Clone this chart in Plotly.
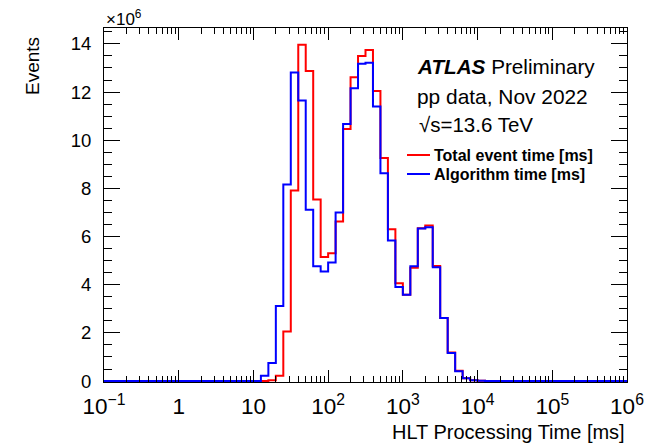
import numpy as np
import plotly.graph_objects as go

# Histogram binning: 10 log-spaced bins per decade from 10^-1 to 10^6 ms
edge_log10 = np.arange(-10, 61) / 10.0
bin_edges_ms = 10 ** edge_log10
first_filled_bin = 21  # bin starting at 10^1.1 ms

# Events per bin, in units of 10^6 (bins 10^1.1 ... 10^4.1 ms)
total_event_time_1e6 = [0.00, 0.03, 0.22, 2.06, 7.91, 13.96, 12.87, 7.54, 5.15, 5.31,
                        6.62, 10.47, 12.62, 13.50, 13.75, 12.04, 9.26, 6.30, 4.06, 3.58,
                        4.70, 6.34, 6.46, 4.78, 2.62, 1.19, 0.43, 0.12, 0.03, 0.01]
algorithm_time_1e6 = [0.22, 0.75, 3.12, 8.16, 12.81, 11.65, 7.11, 4.77, 4.55, 4.92,
                      7.00, 10.67, 12.16, 13.18, 13.22, 11.40, 8.63, 5.84, 3.91, 3.58,
                      4.77, 6.33, 6.39, 4.72, 2.62, 1.16, 0.41, 0.12, 0.03, 0.01]

series_names = ["Total event time [ms]", "Algorithm time [ms]"]
series_colors = ["#ff0000", "#0000ff"]

n_bins = len(bin_edges_ms) - 1


def full_hist(vals):
    h = np.zeros(n_bins)
    h[first_filled_bin:first_filled_bin + len(vals)] = vals
    return list(h) + [h[-1]]


FONT = "Liberation Sans, Arial, Helvetica, sans-serif"

fig = go.Figure()
for name, vals, col in zip(series_names, [total_event_time_1e6, algorithm_time_1e6], series_colors):
    fig.add_trace(go.Scatter(
        x=bin_edges_ms, y=full_hist(vals), mode="lines", name=name,
        line=dict(color=col, width=2, shape="hv"), showlegend=False,
    ))

# plot area geometry in pixels
L, R, T, B = 104, 627, 28, 382
W, H = 650, 445


def px(x):
    return (x - L) / (R - L)


def py(y):
    return (B - y) / (B - T)


fig.update_layout(
    width=W, height=H,
    margin=dict(l=L, r=W - R, t=T, b=H - B, pad=0, autoexpand=False),
    paper_bgcolor="white", plot_bgcolor="white",
    font=dict(family=FONT, color="black", size=18),
    xaxis=dict(
        type="log", range=[-1, 6], dtick=1, tick0=0, exponentformat="power",
        showgrid=False, zeroline=False, automargin=False,
        showline=True, linecolor="black", linewidth=1, mirror="allticks",
        ticks="inside", ticklen=12, tickcolor="black", tickwidth=1,
        minor=dict(ticks="inside", ticklen=6, tickcolor="black", tickwidth=1, showgrid=False),
        tickfont=dict(family=FONT, size=18, color="black"),
        ticklabelstandoff=5,
    ),
    yaxis=dict(
        range=[-0.04, 14.66], dtick=2, tick0=0,
        showgrid=False, zeroline=False, automargin=False,
        showline=True, linecolor="black", linewidth=1, mirror="allticks",
        ticks="inside", ticklen=16, tickcolor="black", tickwidth=1,
        minor=dict(ticks="inside", ticklen=8, dtick=0.5, tick0=0, tickcolor="black",
                   tickwidth=1, showgrid=False),
        tickfont=dict(family=FONT, size=18.5, color="black"),
        ticklabelstandoff=8,
    ),
)

ann = []
ann.append(dict(text="×10<sup>6</sup>", x=0, y=1, xref="paper", yref="paper",
                xanchor="left", yanchor="bottom", yshift=-3, showarrow=False,
                font=dict(size=17)))
ann.append(dict(text="Events", x=px(32), y=py(66), xref="paper", yref="paper",
                xanchor="center", yanchor="middle", textangle=-90, showarrow=False,
                font=dict(size=19)))
ann.append(dict(text="HLT Processing Time [ms]", x=1, y=py(432), xref="paper", yref="paper",
                xanchor="right", yanchor="middle", showarrow=False, font=dict(size=20)))
ann.append(dict(text="<b><i>ATLAS</i></b> Preliminary", x=px(415), y=py(66),
                xref="paper", yref="paper", xanchor="left", yanchor="middle",
                showarrow=False, font=dict(size=20.7)))
ann.append(dict(text="pp data, Nov 2022", x=px(415), y=py(96),
                xref="paper", yref="paper", xanchor="left", yanchor="middle",
                showarrow=False, font=dict(size=20.9)))
ann.append(dict(text="√s=13.6 TeV", x=px(417), y=py(124),
                xref="paper", yref="paper", xanchor="left", yanchor="middle",
                showarrow=False, font=dict(size=20.5)))

shapes = []
for i, (name, col) in enumerate(zip(series_names, series_colors)):
    yy = 155 + 19 * i
    shapes.append(dict(type="line", xref="paper", yref="paper",
                       x0=px(407), x1=px(430), y0=py(yy), y1=py(yy),
                       line=dict(color=col, width=2)))
    ann.append(dict(text="<b>" + name + "</b>", x=px(432), y=py(yy),
                    xref="paper", yref="paper", xanchor="left", yanchor="middle",
                    showarrow=False, font=dict(size=16)))

fig.update_layout(annotations=ann, shapes=shapes)
fig.write_html("out.html", config={"displayModeBar": False},
               post_script="document.body.style.margin='0';document.body.style.overflow='hidden';")
